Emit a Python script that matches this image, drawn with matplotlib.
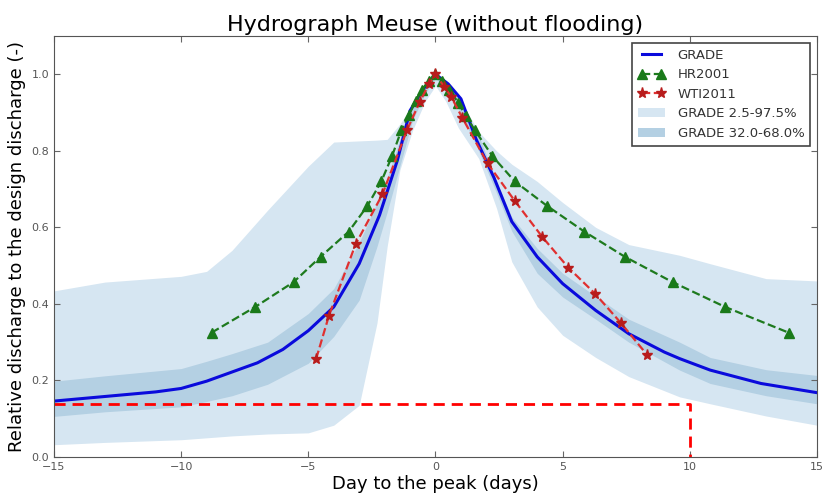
import numpy as np
import matplotlib
matplotlib.use("Agg")
import matplotlib.pyplot as plt
from matplotlib.patches import Patch
from matplotlib.lines import Line2D

# GRADE median hydrograph
grade_x = [-15, -13, -11, -10, -9, -8, -7, -6, -5, -4, -3, -2.2, -1.5, -1, -0.5, 0,
           0.5, 1, 1.6, 2.3, 3.0, 4.0, 5.0, 6.3, 7.6, 9.0, 9.6, 10.8, 12.8, 15]
grade_y = [0.146, 0.158, 0.170, 0.179, 0.198, 0.222, 0.246, 0.281, 0.330, 0.392, 0.505,
           0.632, 0.775, 0.905, 0.960, 1.0, 0.975, 0.936, 0.830, 0.730, 0.615, 0.523,
           0.453, 0.383, 0.322, 0.274, 0.257, 0.227, 0.192, 0.168]

# uncertainty bands
band_x = [-15, -13, -10, -9, -8, -6.6, -5, -4, -3, -2.3, -1.9, -1.4, -0.9, -0.4, 0,
          0.4, 0.9, 1.7, 2.4, 3.0, 4.0, 5.0, 6.3, 7.6, 9.6, 10.8, 13, 15]
outer_hi = [0.434, 0.457, 0.472, 0.485, 0.540, 0.645, 0.760, 0.823, 0.826, 0.828, 0.830,
            0.870, 0.920, 0.970, 1.0, 0.980, 0.940, 0.850, 0.800, 0.765, 0.720, 0.665,
            0.600, 0.555, 0.527, 0.505, 0.466, 0.460]
outer_lo = [0.032, 0.038, 0.045, 0.050, 0.055, 0.060, 0.063, 0.083, 0.135, 0.350, 0.550,
            0.750, 0.854, 0.930, 0.970, 0.930, 0.860, 0.780, 0.650, 0.510, 0.392, 0.318,
            0.260, 0.210, 0.157, 0.139, 0.107, 0.083]
inner_hi = [0.198, 0.212, 0.231, 0.250, 0.270, 0.300, 0.375, 0.440, 0.560, 0.665, 0.730,
            0.830, 0.920, 0.970, 1.0, 0.980, 0.940, 0.840, 0.720, 0.627, 0.545, 0.480,
            0.420, 0.360, 0.300, 0.260, 0.228, 0.213]
inner_lo = [0.106, 0.118, 0.131, 0.145, 0.160, 0.190, 0.245, 0.315, 0.410, 0.550, 0.640,
            0.760, 0.880, 0.950, 0.990, 0.960, 0.910, 0.800, 0.690, 0.590, 0.480, 0.418,
            0.360, 0.300, 0.227, 0.192, 0.160, 0.139]

# HR2001
hr_x = [-8.80, -7.09, -5.58, -4.52, -3.41, -2.68, -2.13, -1.71, -1.34, -1.05, -0.78,
        -0.52, -0.26, 0, 0.26, 0.55, 0.90, 1.20, 1.55, 2.24, 3.12, 4.39, 5.85, 7.45,
        9.32, 11.39, 13.88]
hr_y = [0.325, 0.392, 0.457, 0.523, 0.589, 0.656, 0.720, 0.786, 0.854, 0.893, 0.930,
        0.960, 0.983, 1.0, 0.983, 0.960, 0.925, 0.890, 0.854, 0.786, 0.720, 0.656,
        0.589, 0.523, 0.457, 0.392, 0.325]

# WTI2011
wti_x = [-4.69, -4.19, -3.14, -2.09, -1.12, -0.62, -0.25, 0, 0.35, 0.62, 1.05, 2.05,
         3.12, 4.20, 5.22, 6.27, 7.28, 8.33]
wti_y = [0.257, 0.369, 0.556, 0.686, 0.854, 0.928, 0.975, 1.0, 0.967, 0.941, 0.887,
         0.767, 0.669, 0.575, 0.495, 0.427, 0.351, 0.266]

# design threshold marker
thr_x = [-15, 10, 10]
thr_y = [0.138, 0.138, 0.0]

c_outer = "#d6e6f2"
c_inner = "#b4d0e3"

fig = plt.figure(figsize=(8.24, 4.94), dpi=100)
ax = fig.add_axes([0.0655, 0.075, 0.926, 0.852])

ax.fill_between(band_x, outer_lo, outer_hi, color=c_outer, lw=0)
ax.fill_between(band_x, inner_lo, inner_hi, color=c_inner, lw=0)
ax.plot(grade_x, grade_y, color="#0a0adc", lw=2.2)
ax.plot(hr_x, hr_y, "--", color="#1e7a1e", lw=1.6, marker="^", ms=7,
        mfc="#1a7a1a", mec="#1a7a1a")
ax.plot(wti_x, wti_y, "--", color="#e03030", lw=1.6, marker="*", ms=8,
        mfc="#b81c1c", mec="#b81c1c")
ax.plot(thr_x, thr_y, color="red", lw=2, dashes=(4, 2.5))

ax.set_xlim(-15, 15)
ax.set_ylim(0, 1.1)
ax.set_xticks(np.arange(-15, 16, 5))
ax.set_yticks(np.arange(0, 1.01, 0.2))
ax.set_yticklabels(["%.1f" % v for v in np.arange(0, 1.01, 0.2)])
ax.tick_params(direction="in", top=True, right=True, labelsize=8,
               labelcolor="#555555", color="#666666", length=4)
for s in ax.spines.values():
    s.set_color("#555555")

ax.set_title("Hydrograph Meuse (without flooding)", fontsize=16, pad=4)
ax.set_xlabel("Day to the peak (days)", fontsize=13, labelpad=2)
ax.set_ylabel("Relative discharge to the design discharge (-)", fontsize=13, labelpad=4)

handles = [
    Line2D([], [], color="#0a0adc", lw=2.2),
    Line2D([], [], color="#1e7a1e", ls="--", lw=1.6, marker="^", ms=7,
           mfc="#1a7a1a", mec="#1a7a1a"),
    Line2D([], [], color="#e03030", ls="--", lw=1.6, marker="*", ms=8,
           mfc="#b81c1c", mec="#b81c1c"),
    Patch(facecolor=c_outer, edgecolor="none"),
    Patch(facecolor=c_inner, edgecolor="none"),
]
labels = ["GRADE", "HR2001", "WTI2011", "GRADE 2.5-97.5%", "GRADE 32.0-68.0%"]
leg = ax.legend(handles, labels, loc="upper right", fontsize=9.5, numpoints=2,
                fancybox=False, framealpha=1, edgecolor="#444444",
                borderaxespad=0.5, handlelength=2.0, handletextpad=1.0,
                labelspacing=0.5, borderpad=0.45)
leg.get_frame().set_linewidth(1.2)
for t in leg.get_texts():
    t.set_color("#333333")

fig.savefig("out.png", dpi=100)
